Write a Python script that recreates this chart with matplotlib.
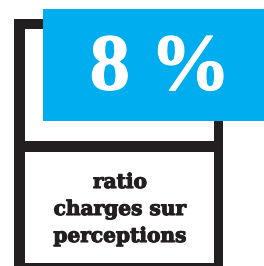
import matplotlib.pyplot as plt
from matplotlib.patches import Rectangle
import matplotlib.patheffects as pe

# KPI tile: value + label
value = 8
unit = "%"
label_lines = ["ratio", "charges sur", "perceptions"]

BLUE = "#00aeef"
DARK = "#231f20"

W, H = 264, 266
fig = plt.figure(figsize=(W / 100, H / 100), dpi=100)
ax = fig.add_axes([0, 0, 1, 1])
ax.set_xlim(0, W)
ax.set_ylim(H, 0)
ax.axis("off")

# black frame (left, top, right, divider, bottom)
for x, y, w, h in [(14, 19, 11, 250), (14, 19, 209, 10), (214, 19, 9, 250),
                   (14, 141, 209, 11), (14, 263, 209, 6)]:
    ax.add_patch(Rectangle((x, y), w, h, color=DARK, lw=0))

# blue value box
ax.add_patch(Rectangle((43, 9), W - 43, 112, color=BLUE, lw=0))
ax.text(160, 70, f"{value} {unit}", color="white", ha="center", va="center",
        fontsize=58, fontweight="bold", family="Liberation Serif",
        path_effects=[pe.withStroke(linewidth=0.8, foreground="white")])

# label
for i, line in enumerate(label_lines):
    ax.text(120, 182 + i * 27, line, color=DARK, ha="center", va="center",
            fontsize=14.5, fontweight="bold", family="DejaVu Serif",
            path_effects=[pe.withStroke(linewidth=0.8, foreground=DARK)])

fig.savefig("out.png", dpi=100)
